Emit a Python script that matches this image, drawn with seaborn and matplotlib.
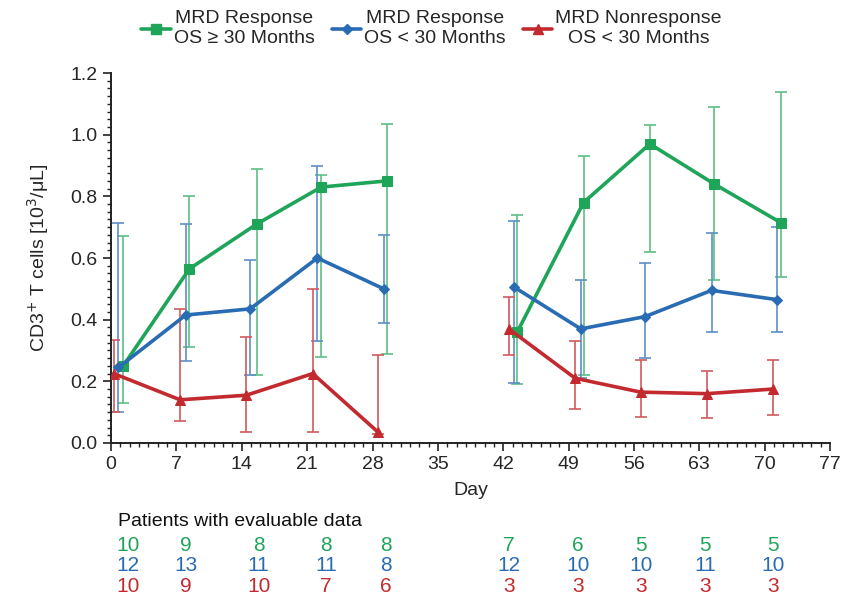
import numpy as np
import pandas as pd
import seaborn as sns
import matplotlib.pyplot as plt
from matplotlib.ticker import MultipleLocator
from matplotlib.lines import Line2D

# --- data ---
groups = ["MRD Response\nOS \u2265 30 Months",
          "MRD Response\nOS < 30 Months",
          "MRD Nonresponse\nOS < 30 Months"]
colors = ["#1fa55a", "#2a6cb4", "#c22a2f"]
err_colors = ["#5dbf84", "#5f8fc6", "#cf5b5e"]
markers = ["s", "D", "^"]

green_day = [1.3, 8.4, 15.6, 22.5, 29.5, 43.5, 50.6, 57.7, 64.6, 71.7]
green_val = [0.25, 0.565, 0.71, 0.83, 0.85, 0.36, 0.78, 0.97, 0.84, 0.715]
green_lo = [0.13, 0.31, 0.22, 0.28, 0.29, 0.19, 0.22, 0.62, 0.53, 0.54]
green_hi = [0.67, 0.80, 0.89, 0.87, 1.035, 0.74, 0.93, 1.03, 1.09, 1.14]

blue_day = [0.8, 8.0, 14.9, 22.1, 29.2, 43.2, 50.3, 57.2, 64.3, 71.3]
blue_val = [0.245, 0.415, 0.435, 0.60, 0.50, 0.505, 0.37, 0.41, 0.495, 0.465]
blue_lo = [0.10, 0.265, 0.22, 0.33, 0.39, 0.195, 0.21, 0.275, 0.36, 0.36]
blue_hi = [0.715, 0.71, 0.595, 0.90, 0.675, 0.72, 0.53, 0.585, 0.68, 0.70]

red_day = [0.3, 7.4, 14.5, 21.6, 28.6, 42.6, 49.7, 56.7, 63.8, 70.9]
red_val = [0.225, 0.14, 0.155, 0.225, 0.035, 0.37, 0.21, 0.165, 0.16, 0.175]
red_lo = [0.10, 0.07, 0.035, 0.035, 0.03, 0.285, 0.11, 0.085, 0.08, 0.09]
red_hi = [0.335, 0.435, 0.345, 0.50, 0.285, 0.475, 0.33, 0.27, 0.235, 0.27]

count_day = [1.8, 8.0, 15.8, 23.0, 29.4, 42.6, 50.0, 56.8, 63.6, 70.9]
green_n = [10, 9, 8, 8, 8, 7, 6, 5, 5, 5]
blue_n = [12, 13, 11, 11, 8, 12, 10, 10, 11, 10]
red_n = [10, 9, 10, 7, 6, 3, 3, 3, 3, 3]

series = [
    (green_day, green_val, green_lo, green_hi, green_n),
    (blue_day, blue_val, blue_lo, blue_hi, blue_n),
    (red_day, red_val, red_lo, red_hi, red_n),
]

rows = []
for g, (days, vals, lo, hi, n) in zip(groups, series):
    for i, (d, v, l, h) in enumerate(zip(days, vals, lo, hi)):
        rows.append({"group": g, "day": d, "value": v, "lo": l, "hi": h,
                     "segment": 0 if i < 5 else 1})
df = pd.DataFrame(rows)

sns.set_style("ticks")
plt.rcParams["font.family"] = ["Liberation Sans", "DejaVu Sans"]

fig = plt.figure(figsize=(8.43, 6.06), dpi=100)
ax = fig.add_axes([0.1317, 0.269, 0.853, 0.6105])

for g, c, ec, m in zip(groups, colors, err_colors, markers):
    sub = df[df["group"] == g]
    ax.errorbar(sub["day"], sub["value"],
                yerr=[sub["value"] - sub["lo"], sub["hi"] - sub["value"]],
                fmt="none", ecolor=ec, elinewidth=1.2, capsize=4, capthick=1.2,
                zorder=2)
    for seg, part in sub.groupby("segment"):
        sns.lineplot(data=part, x="day", y="value", color=c, marker=m,
                     markersize=7 if m != "D" else 5, markeredgecolor=c,
                     linewidth=2.6, ax=ax, zorder=3, legend=False,
                     estimator=None, sort=False)

ax.set_xlim(0, 77)
ax.set_ylim(0, 1.2)
ax.xaxis.set_major_locator(MultipleLocator(7))
ax.xaxis.set_minor_locator(MultipleLocator(1))
ax.yaxis.set_major_locator(MultipleLocator(0.2))
ax.yaxis.set_minor_locator(MultipleLocator(0.025))
ax.yaxis.set_major_formatter(plt.FuncFormatter(lambda v, p: f"{v:.1f}"))
ax.tick_params(which="major", length=6, width=1.2, labelsize=14, color="#222222")
ax.tick_params(which="minor", length=3, width=1.0, color="#222222")
for s in ["left", "bottom"]:
    ax.spines[s].set_linewidth(1.4)
    ax.spines[s].set_color("#222222")
sns.despine(ax=ax)
ax.set_xlabel("Day", fontsize=14, labelpad=6)
ax.set_ylabel("CD3$^{+}$ T cells [10$^{3}$/\u03bcL]", fontsize=14, labelpad=14)

handles = [Line2D([0], [0], color=c, marker=m, linewidth=2.6,
                  markersize=7 if m != "D" else 5)
           for c, m in zip(colors, markers)]
leg = fig.legend(handles, groups, loc="upper center", ncol=3,
                 bbox_to_anchor=(0.512, 1.012), frameon=False, fontsize=14,
                 handlelength=1.5, handletextpad=0.15, columnspacing=0.9,
                 labelspacing=0.2)
for t in leg.get_texts():
    t.set_multialignment("center")
    t.set_linespacing(1.25)

# patients with evaluable data
trans = ax.get_xaxis_transform()
ax.text(0.8, -0.2135, "Patients with evaluable data", transform=trans,
        fontsize=14, ha="left", va="center", color="#111111")
row_y = [-0.278, -0.332, -0.389]
for (days, vals, lo, hi, n), c, yy in zip(series, colors, row_y):
    for d, k in zip(count_day, n):
        ax.text(d, yy, str(k), transform=trans, fontsize=15, ha="center",
                va="center", color=c, clip_on=False)

fig.savefig("out.png", dpi=100)
